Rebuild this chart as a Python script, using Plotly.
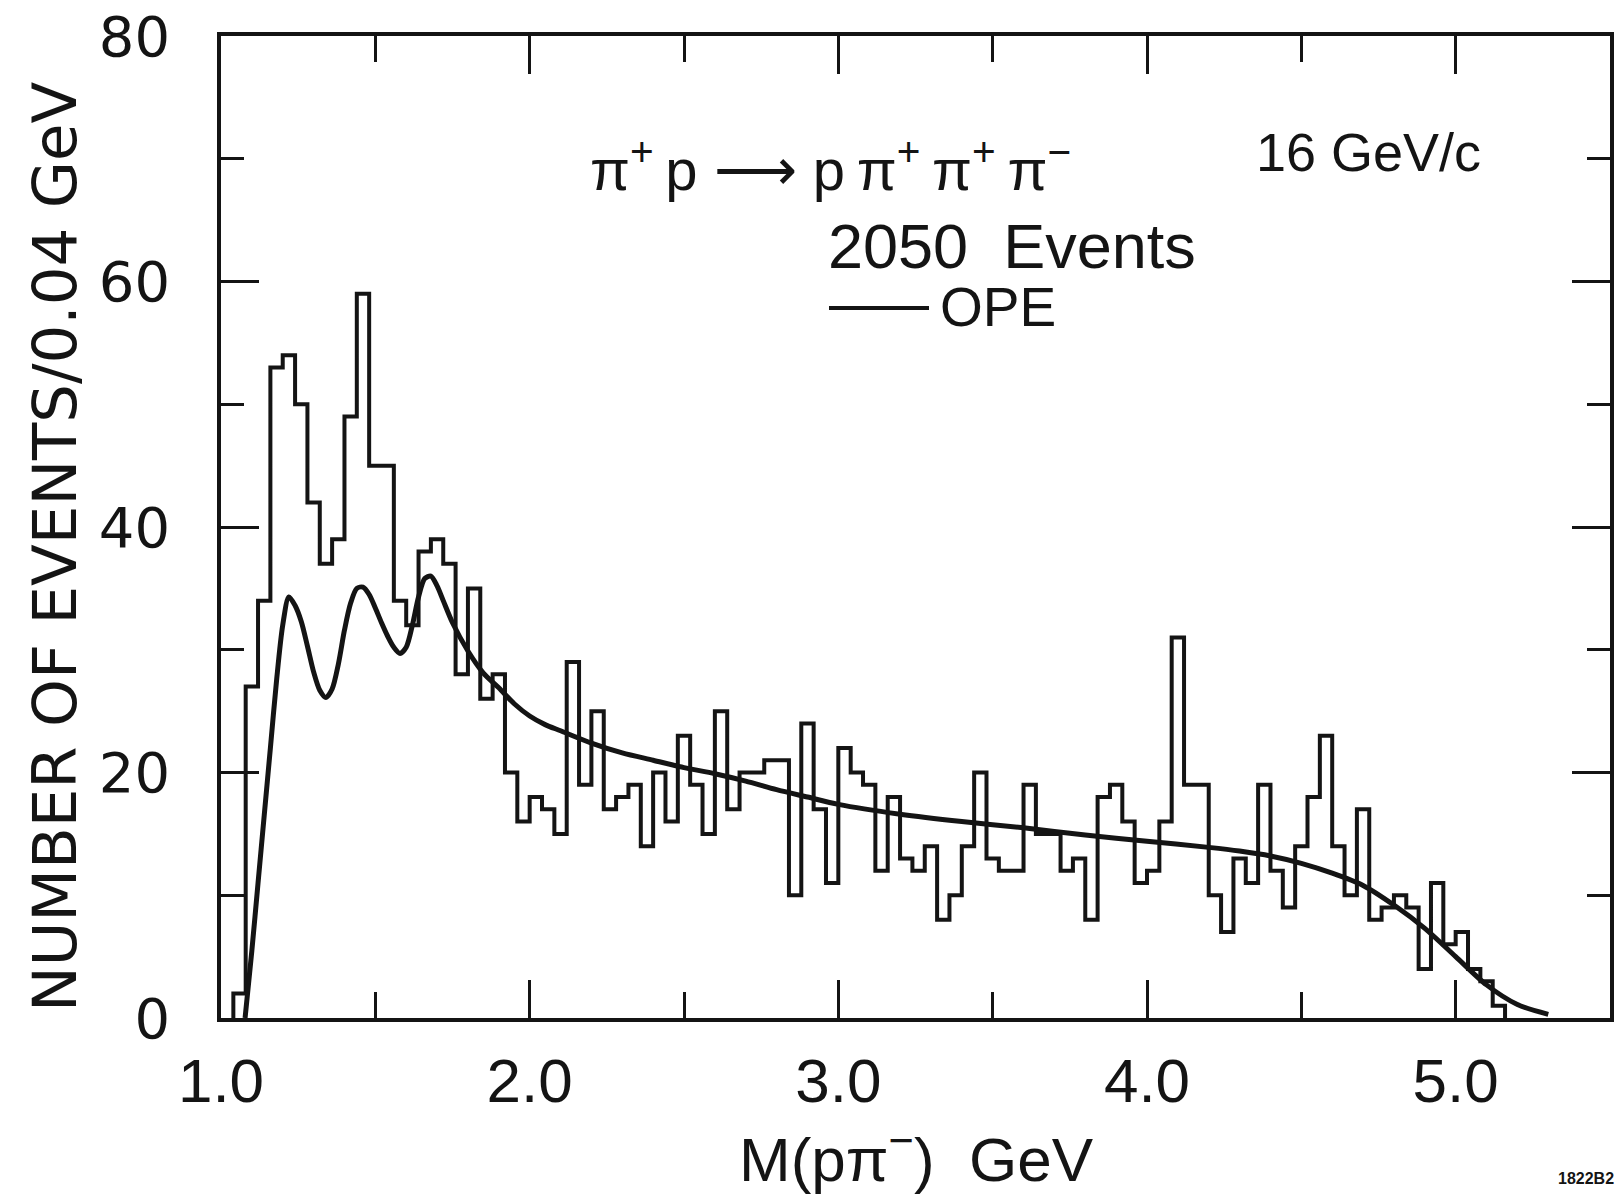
import numpy as np
import plotly.graph_objects as go

# ---- M(p pi-) spectrum, pi+ p -> p pi+ pi+ pi- at 16 GeV/c ----
bin_start = 1.04      # GeV, lower edge of the first bin
bin_width = 0.04      # GeV per bin

# events per 0.04 GeV bin, from 1.04 GeV upward
counts = [
    2, 27, 34, 53, 54, 50, 42, 37, 39, 49, 59, 45, 45, 34, 32, 38, 39, 37, 28, 35, 26, 28,   # 1.04-1.88
    20, 16, 18, 17, 15, 29, 19, 25, 17, 18, 19, 14, 20, 16, 23, 19, 15, 25, 17, 20, 20, 21,  # 1.92-2.76
    21,                                                                                      # 2.80
    10, 24, 17, 11, 22, 20, 19, 12, 18, 13, 12, 14, 8, 10, 14, 20, 13, 12, 12, 19, 15,       # 2.84-3.64
    15, 12, 13, 8, 18, 19, 16, 11, 12, 16, 31, 19, 19, 10, 7, 13, 11, 19, 12, 9, 14, 18, 23, # 3.68-4.56
    14, 10, 17, 8, 9, 10, 9, 4, 11, 6, 7, 4, 3, 1,                                           # 4.60-5.12
]

# one-pion-exchange (OPE) prediction
ope_mass = [1.078, 1.10, 1.12, 1.14, 1.16, 1.18, 1.20, 1.22, 1.24, 1.26, 1.28, 1.30,
            1.32, 1.34, 1.36, 1.38, 1.40, 1.42, 1.44, 1.46, 1.48, 1.50, 1.52, 1.54,
            1.56, 1.58, 1.60, 1.62, 1.64, 1.66, 1.68, 1.70, 1.72, 1.75, 1.80, 1.85,
            1.90, 1.95, 2.00, 2.05, 2.10, 2.20, 2.30, 2.40, 2.50, 2.60, 2.70, 2.80,
            2.90, 3.00, 3.20, 3.40, 3.60, 3.80, 4.00, 4.20, 4.30, 4.40, 4.50, 4.60,
            4.70, 4.80, 4.90, 5.00, 5.10, 5.20, 5.30]
ope_events = [0.0, 5.5, 11.0, 16.5, 22.0, 27.5, 32.0, 34.3, 33.6, 32.3, 30.3, 28.2,
              26.7, 26.1, 26.8, 28.8, 31.6, 33.8, 35.0, 35.1, 34.5, 33.4, 32.2, 31.1,
              30.2, 29.7, 30.2, 32.0, 34.3, 35.8, 36.0, 35.2, 34.0, 32.2, 29.9, 28.1,
              26.9, 25.6, 24.6, 23.9, 23.4, 22.4, 21.6, 21.0, 20.4, 19.9, 19.3, 18.6,
              18.0, 17.4, 16.6, 16.0, 15.5, 14.9, 14.4, 13.9, 13.6, 13.2, 12.6, 11.8,
              10.8, 9.2, 7.3, 5.0, 2.7, 1.1, 0.3]

x_range = [1.0, 5.5]
y_range = [0, 80]

INK = "#141414"
SANS = "Liberation Sans, Arial, sans-serif"
WIDE = "DejaVu Sans, Verdana, sans-serif"

W, H = 1619, 1199
L, R, T, B = 221, 9, 36, 181
PW, PH = W - L - R, H - T - B


def px(x):
    return (x - L) / PW


def py(y):
    return 1 - (y - T) / PH


# histogram outline as a step line over the bin edges
edges = np.round(bin_start + bin_width * np.arange(len(counts) + 1), 2)
step_x = np.concatenate([[edges[0]], edges])
step_y = np.concatenate([[0], counts, [0]])

fig = go.Figure()
fig.add_trace(go.Scatter(
    x=step_x, y=step_y, mode="lines",
    line=dict(shape="hv", color=INK, width=4),
    hoverinfo="skip", showlegend=False,
))
fig.add_trace(go.Scatter(
    x=ope_mass, y=ope_events, mode="lines", name="OPE",
    line=dict(shape="spline", smoothing=0.8, color=INK, width=5),
    showlegend=False,
))

axis_common = dict(
    showline=True, linewidth=3.5, linecolor=INK, mirror="allticks",
    ticks="inside", tickwidth=3, tickcolor=INK, ticklen=38,
    showgrid=False, zeroline=False, ticklabeloverflow="allow",
    automargin=False,
)

fig.update_xaxes(
    range=x_range, tick0=1, dtick=1, tickformat=".1f",
    tickfont=dict(family=SANS, size=62, color=INK), ticklabelstandoff=6,
    minor=dict(ticks="inside", tick0=1, dtick=0.5, ticklen=26, tickwidth=3,
               tickcolor=INK, showgrid=False),
    **axis_common,
)
fig.update_yaxes(
    range=y_range, tick0=0, dtick=20,
    tickfont=dict(family=WIDE, size=56, color=INK), ticklabelstandoff=36,
    minor=dict(ticks="inside", tick0=0, dtick=10, ticklen=23, tickwidth=3,
               tickcolor=INK, showgrid=False),
    **axis_common,
)

NB = "\u00a0"
TH = "\u2009"
reaction = ("π<sup>+</sup>" + TH + "p ⟶ p" + TH + "π<sup>+</sup>" + TH
            + "π<sup>+</sup>" + TH + "π<sup>−</sup>")
annotations = [
    dict(x=px(54), y=py(547), text="NUMBER OF EVENTS/0.04 GeV", textangle=-90,
         font=dict(family=WIDE, size=61, color=INK)),
    dict(x=px(917), y=py(1155), text="M(pπ<sup>−</sup>)" + NB * 2 + "GeV",
         font=dict(family=SANS, size=62, color=INK)),
    dict(x=px(830), y=py(165), text=reaction,
         font=dict(family=SANS, size=58, color=INK)),
    dict(x=px(1368), y=py(152), text="16 GeV/c",
         font=dict(family=SANS, size=54, color=INK)),
    dict(x=px(1012), y=py(246), text="2050" + NB * 2 + "Events",
         font=dict(family=SANS, size=63, color=INK)),
    dict(x=px(998), y=py(307), text="OPE",
         font=dict(family=SANS, size=55, color=INK)),
    dict(x=px(1586), y=py(1178), text="<b>1822B2</b>",
         font=dict(family=SANS, size=16, color=INK)),
]
for a in annotations:
    a.update(xref="paper", yref="paper", showarrow=False,
             xanchor="center", yanchor="middle")

fig.update_layout(
    width=W, height=H,
    margin=dict(l=L, r=R, t=T, b=B, pad=0),
    paper_bgcolor="white", plot_bgcolor="white",
    annotations=annotations,
    shapes=[dict(type="line", xref="paper", yref="paper",
                 x0=px(829), x1=px(929), y0=py(308), y1=py(308),
                 line=dict(color=INK, width=4))],
    showlegend=False,
)

fig.write_html("out.html")
